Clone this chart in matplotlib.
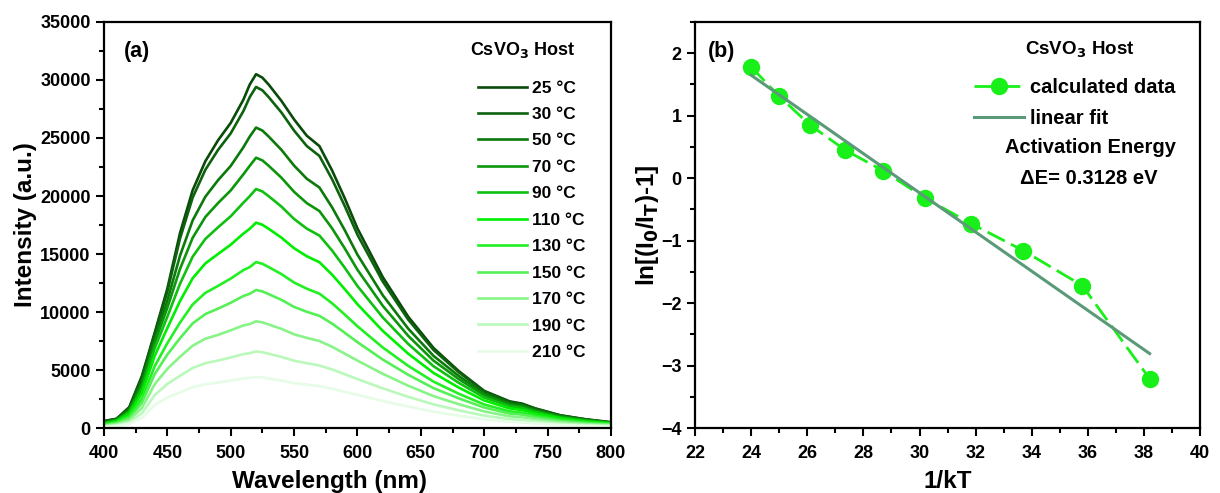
import matplotlib
matplotlib.use("Agg")
import matplotlib.pyplot as plt
import numpy as np
from matplotlib.ticker import MultipleLocator

plt.rcParams['font.family'] = ['Liberation Sans', 'DejaVu Sans']
plt.rcParams['font.weight'] = 'bold'
plt.rcParams['mathtext.default'] = 'bf'

# ---------------- data: panel (a) ----------------
wavelength = [400, 410, 420, 430, 440, 450, 460, 470, 480, 490, 500, 510, 515, 520, 525, 530, 540, 550,
              560, 570, 580, 590, 600, 620, 640, 660, 680, 700, 720, 730, 740, 760, 780, 800]

temps = ["25 °C", "30 °C", "50 °C", "70 °C", "90 °C", "110 °C", "130 °C", "150 °C",
         "170 °C", "190 °C", "210 °C"]

I_25 = [600, 800, 1800, 4500, 8200, 12000, 16800, 20500, 23000, 24800, 26300, 28300, 29600, 30500, 30200, 29600, 28200, 26600,
        25200, 24300, 22200, 19800, 17200, 13000, 9600, 6900, 4900, 3200, 2300, 2100, 1700, 1100, 750, 500]
I_30 = [590, 780, 1750, 4400, 8070, 11740, 16330, 19870, 22260, 23970, 25400, 27320, 28520, 29400, 29110, 28520, 27200, 25640,
        24310, 23450, 21440, 19130, 16660, 12620, 9350, 6730, 4800, 3150, 2250, 2060, 1680, 1080, 750, 480]
I_50 = [520, 730, 1610, 4040, 7670, 10980, 14850, 17900, 19940, 21360, 22590, 24200, 25120, 25900, 25640, 25120, 23980, 22620,
        21490, 20730, 19020, 17050, 14940, 11440, 8570, 6220, 4480, 2970, 2120, 1950, 1580, 1030, 710, 470]
I_70 = [470, 690, 1500, 3750, 7320, 10360, 13710, 16400, 18190, 19390, 20480, 21870, 22600, 23300, 23070, 22600, 21580, 20360,
        19390, 18700, 17210, 15480, 13640, 10530, 7950, 5810, 4210, 2830, 2010, 1850, 1500, 980, 670, 450]
I_90 = [410, 640, 1370, 3420, 6850, 9590, 12430, 14770, 16300, 17300, 18250, 19420, 19980, 20600, 20390, 19980, 19090, 18020,
        17190, 16590, 15300, 13810, 12240, 9530, 7250, 5330, 3890, 2630, 1870, 1720, 1400, 910, 620, 430]
I_110 = [350, 570, 1210, 3030, 6200, 8610, 10940, 12910, 14190, 15000, 15800, 16760, 17170, 17700, 17520, 17170, 16410, 15500,
         14810, 14290, 13220, 11970, 10670, 8370, 6410, 4750, 3480, 2380, 1690, 1550, 1260, 830, 560, 390]
I_130 = [290, 490, 1020, 2540, 5320, 7310, 9090, 10650, 11650, 12250, 12880, 13610, 13870, 14300, 14160, 13870, 13270, 12540,
         12010, 11580, 10750, 9780, 8770, 6940, 5360, 4000, 2950, 2030, 1440, 1320, 1080, 710, 480, 340]
I_150 = [240, 420, 870, 2180, 4640, 6330, 7740, 9020, 9820, 10290, 10800, 11380, 11570, 11900, 11780, 11540, 11050, 10440,
         10020, 9670, 9000, 8210, 7400, 5900, 4590, 3440, 2550, 1770, 1250, 1150, 940, 620, 420, 300]
I_170 = [180, 340, 690, 1740, 3770, 5100, 6140, 7100, 7700, 8030, 8420, 8840, 8960, 9200, 9110, 8920, 8550, 8080,
         7770, 7500, 7000, 6410, 5810, 4670, 3650, 2750, 2050, 1430, 1010, 930, 760, 500, 340, 250]
I_190 = [130, 250, 510, 1280, 2830, 3800, 4500, 5180, 5590, 5810, 6080, 6370, 6450, 6600, 6530, 6400, 6130, 5800,
         5590, 5390, 5050, 4640, 4220, 3420, 2690, 2040, 1520, 1070, 760, 690, 570, 380, 250, 190]
I_210 = [90, 180, 350, 880, 1980, 2640, 3080, 3520, 3780, 3920, 4090, 4270, 4330, 4400, 4360, 4270, 4090, 3870,
         3740, 3610, 3390, 3120, 2860, 2330, 1850, 1410, 1060, 750, 530, 480, 400, 260, 180, 130]

spectra = [I_25, I_30, I_50, I_70, I_90, I_110, I_130, I_150, I_170, I_190, I_210]
colors = ["#0a4a0a", "#0d620d", "#0b7a0b", "#0b960b", "#10c010", "#00ee00",
          "#22f022", "#55f055", "#88f488", "#bbf8bb", "#e6fce6"]

# ---------------- data: panel (b) ----------------
inv_kT = [24.0, 25.0, 26.1, 27.35, 28.7, 30.2, 31.85, 33.7, 35.8, 38.2]
ln_ratio = [1.78, 1.31, 0.85, 0.45, 0.12, -0.32, -0.73, -1.16, -1.72, -3.21]

fig = plt.figure(figsize=(12.2, 4.93), dpi=100)
ax1 = fig.add_axes([0.0852, 0.1318, 0.4156, 0.8236])
ax2 = fig.add_axes([0.5697, 0.1318, 0.4140, 0.8236])

for lab, I, c in zip(temps, spectra, colors):
    ax1.plot(wavelength, I, color=c, lw=1.9, label=lab, solid_joinstyle='round')

ax1.set_xlim(400, 800)
ax1.set_ylim(0, 35000)
ax1.xaxis.set_major_locator(MultipleLocator(50))
ax1.xaxis.set_minor_locator(MultipleLocator(25))
ax1.yaxis.set_major_locator(MultipleLocator(5000))
ax1.yaxis.set_minor_locator(MultipleLocator(2500))
ax1.set_xlabel("Wavelength (nm)", fontsize=17.5, fontweight='bold', labelpad=3)
ax1.xaxis.set_label_coords(0.444, -0.103)
ax1.set_ylabel("Intensity (a.u.)", fontsize=17.5, fontweight='bold', labelpad=2)
ax1.text(0.04, 0.915, "(a)", transform=ax1.transAxes, fontsize=15.5, fontweight='bold')
ax1.text(0.825, 0.932, "CsVO$_\\mathbf{3}$ Host", transform=ax1.transAxes, fontsize=13,
         fontweight='bold', ha='center', va='center')
leg1 = ax1.legend(loc='upper left', bbox_to_anchor=(0.738, 0.856), frameon=False,
                  fontsize=12.5, handlelength=2.8, borderaxespad=0, borderpad=0,
                  handletextpad=0.3, labelspacing=0.65)
for t in leg1.get_texts():
    t.set_fontweight('bold')

ax2.plot(inv_kT, ln_ratio, color="#19f019", lw=2.0, ls=(0, (7, 2.5)), marker='o', ms=11.5,
         mfc="#19f019", mec="#19f019", label="calculated data", zorder=2)
coef = np.polyfit(inv_kT, ln_ratio, 1)
xf = np.array([inv_kT[0], inv_kT[-1]])
ax2.plot(xf, np.polyval(coef, xf), color="#5a9a78", lw=2.2, label="linear fit", zorder=3)

ax2.set_xlim(22, 40)
ax2.set_ylim(-4, 2.5)
ax2.xaxis.set_major_locator(MultipleLocator(2))
ax2.xaxis.set_minor_locator(MultipleLocator(1))
ax2.yaxis.set_major_locator(MultipleLocator(1))
ax2.yaxis.set_minor_locator(MultipleLocator(0.5))
ax2.set_xlabel("1/kT", fontsize=17.5, fontweight='bold', labelpad=6)
ax2.set_ylabel("ln[(I$_\\mathbf{0}$/I$_\\mathbf{T}$)-1]", fontsize=17.5, fontweight='bold', labelpad=0)
ax2.text(0.025, 0.915, "(b)", transform=ax2.transAxes, fontsize=15.5, fontweight='bold')
ax2.text(0.762, 0.932, "CsVO$_\\mathbf{3}$ Host", transform=ax2.transAxes, fontsize=13.5,
         fontweight='bold', ha='center', va='center')
leg2 = ax2.legend(loc='upper left', bbox_to_anchor=(0.552, 0.862), frameon=False,
                  fontsize=14.5, handlelength=2.5, borderaxespad=0, borderpad=0,
                  handletextpad=0.3, labelspacing=0.6)
for t in leg2.get_texts():
    t.set_fontweight('bold')
ax2.text(0.782, 0.69, "Activation Energy", transform=ax2.transAxes, fontsize=14.5,
         fontweight='bold', ha='center', va='center')
ax2.text(0.780, 0.615, "ΔE= 0.3128 eV", transform=ax2.transAxes, fontsize=14.5,
         fontweight='bold', ha='center', va='center')

for ax in (ax1, ax2):
    for s in ax.spines.values():
        s.set_linewidth(1.6)
    ax.tick_params(which='both', direction='out', width=1.5, labelsize=13)
    ax.tick_params(which='major', length=6)
    ax.tick_params(which='minor', length=3.5)
    ax.tick_params(axis='x', which='both', pad=6)
    for lbl in ax.get_xticklabels() + ax.get_yticklabels():
        lbl.set_fontweight('bold')

fig.savefig("out.png", dpi=100)
